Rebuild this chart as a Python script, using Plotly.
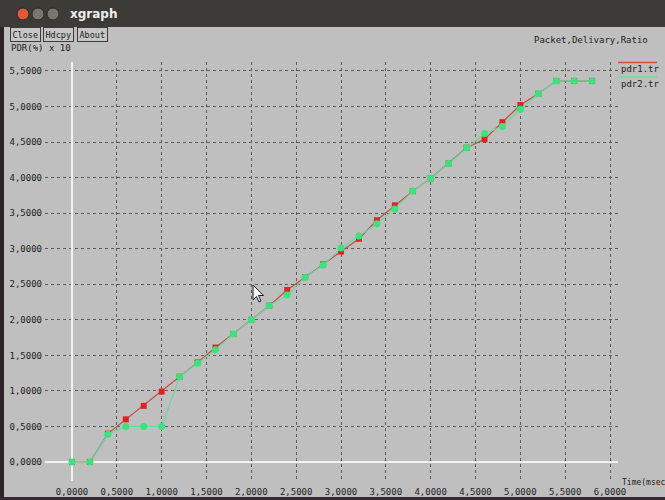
import plotly.graph_objects as go

# ---- data ----
time_ms = [0.0, 0.2, 0.4, 0.6, 0.8, 1.0, 1.2, 1.4, 1.6, 1.8, 2.0, 2.2, 2.4, 2.6, 2.8,
           3.0, 3.2, 3.4, 3.6, 3.8, 4.0, 4.2, 4.4, 4.6, 4.8, 5.0, 5.2, 5.4, 5.6, 5.8]
pdr1 = [0.0, 0.0, 0.40, 0.60, 0.79, 0.99, 1.20, 1.40, 1.61, 1.80, 2.00, 2.20, 2.42, 2.60, 2.78,
        2.96, 3.14, 3.40, 3.61, 3.81, 3.99, 4.20, 4.42, 4.54, 4.78, 5.02, 5.18, 5.36, 5.36, 5.36]
pdr2 = [0.0, 0.0, 0.39, 0.50, 0.50, 0.50, 1.20, 1.39, 1.58, 1.80, 2.00, 2.20, 2.35, 2.60, 2.77,
        3.01, 3.18, 3.35, 3.56, 3.81, 3.99, 4.20, 4.42, 4.62, 4.72, 4.96, 5.18, 5.36, 5.36, 5.36]
x_ticks = [0.0, 0.5, 1.0, 1.5, 2.0, 2.5, 3.0, 3.5, 4.0, 4.5, 5.0, 5.5, 6.0]
x_tick_labels = ["0,0000", "0,5000", "1,0000", "1,5000", "2,0000", "2,5000", "3,0000",
                 "3,5000", "4,0000", "4,5000", "5,0000", "5,5000", "6,0000"]
y_ticks = [0.0, 0.5, 1.0, 1.5, 2.0, 2.5, 3.0, 3.5, 4.0, 4.5, 5.0, 5.5]
y_tick_labels = ["0,0000", "0,5000", "1,0000", "1,5000", "2,0000", "2,5000",
                 "3,0000", "3,5000", "4,0000", "4,5000", "5,0000", "5,5000"]
series_names = ["pdr1.tr", "pdr2.tr"]
title_text = "Packet,Delivary,Ratio"
y_label = "PDR(%) x 10"
x_label = "Time(msec"

# ---- layout geometry (pixels) ----
W, H = 665, 500
L, R, T, B = 45, 618, 62, 481
PW, PH = R - L, B - T


def px(x):
    return (x - L) / PW


def py(y):
    return (B - y) / PH


BG = "#bfbfbf"
MONO = "DejaVu Sans Mono"

fig = go.Figure()
fig.add_trace(go.Scatter(x=time_ms, y=pdr1, mode="lines+markers", name=series_names[0],
                         line=dict(color="#c44a40", width=1.2),
                         marker=dict(symbol="square", size=6, color="#e02222"),
                         showlegend=False, cliponaxis=False))
fig.add_trace(go.Scatter(x=time_ms, y=pdr2, mode="lines+markers", name=series_names[1],
                         line=dict(color="#6ad89e", width=1.2),
                         marker=dict(symbol="circle", size=7, color="#3ae47c"),
                         showlegend=False, cliponaxis=False))

fig.update_layout(
    width=W, height=H,
    margin=dict(l=L, r=W - R, t=T, b=H - B, pad=0, autoexpand=False),
    paper_bgcolor=BG, plot_bgcolor=BG,
    font=dict(family=MONO, size=9, color="#222222"),
    xaxis=dict(range=[-0.301, 6.089], tickvals=x_ticks, ticktext=x_tick_labels,
               showgrid=True, gridcolor="#5a5a5a", griddash="dot", gridwidth=1,
               zeroline=True, zerolinecolor="#f2f2f2", zerolinewidth=2, automargin=False,
               showline=False, ticks="", ticklabelstandoff=4, fixedrange=True),
    yaxis=dict(range=[-0.267, 5.626], tickvals=y_ticks, ticktext=y_tick_labels,
               showgrid=True, gridcolor="#5a5a5a", griddash="dot", gridwidth=1,
               zeroline=True, zerolinecolor="#f2f2f2", zerolinewidth=2, automargin=False,
               showline=False, ticks="", ticklabelstandoff=2, fixedrange=True),
)

shapes = []
# window title bar
shapes.append(dict(type="rect", xref="paper", yref="paper", x0=px(0), x1=px(W), y0=py(27), y1=py(0),
                   fillcolor="#3c3b37", line=dict(width=0), layer="above"))
# title bar buttons
for cx, col in [(23, "#e0583c"), (38, "#77766f"), (53, "#77766f")]:
    shapes.append(dict(type="circle", xref="paper", yref="paper",
                       x0=px(cx - 6), x1=px(cx + 6), y0=py(14 + 6), y1=py(14 - 6),
                       fillcolor=col, line=dict(color="#2a2a28", width=1), layer="above"))
# left and bottom window borders
shapes.append(dict(type="rect", xref="paper", yref="paper", x0=px(0), x1=px(4), y0=py(H), y1=py(27),
                   fillcolor="#2e2428", line=dict(width=0), layer="above"))
shapes.append(dict(type="rect", xref="paper", yref="paper", x0=px(0), x1=px(W), y0=py(H), y1=py(497),
                   fillcolor="#3a2830", line=dict(width=0), layer="above"))
# legend lines
shapes.append(dict(type="line", xref="paper", yref="paper", x0=px(618), x1=px(657), y0=py(62.5), y1=py(62.5),
                   line=dict(color="#e04848", width=1.5), layer="above"))
shapes.append(dict(type="line", xref="paper", yref="paper", x0=px(618), x1=px(657), y0=py(77), y1=py(77),
                   line=dict(color="#5ee39a", width=1.5), layer="above"))
# mouse cursor
cx0, cy0 = 253, 285
pts = [(0, 0), (0, 15), (3.5, 11.5), (6, 17), (8, 16), (5.5, 10.5), (10.5, 10.5)]
path = "M " + " L ".join(f"{px(cx0 + a)},{py(cy0 + b)}" for a, b in pts) + " Z"
shapes.append(dict(type="path", xref="paper", yref="paper", path=path,
                   fillcolor="#f4f4f4", line=dict(color="#222222", width=1), layer="above"))
fig.update_layout(shapes=shapes)

ann = []
ann.append(dict(text="<b>xgraph</b>", xref="paper", yref="paper", x=px(68), y=py(14), xanchor="left",
                yanchor="middle", showarrow=False,
                font=dict(family="DejaVu Sans", size=12, color="#f0f0f0")))
ann.append(dict(text=y_label, xref="paper", yref="paper", x=px(9), y=py(48), xanchor="left", yanchor="middle",
                showarrow=False, font=dict(family=MONO, size=9, color="#222222")))
for label, cx in [("Close", 25.5), ("Hdcpy", 58), ("About", 92)]:
    ann.append(dict(text=label, xref="paper", yref="paper", x=px(cx), y=py(34.5), xanchor="center",
                    yanchor="middle", showarrow=False, bgcolor="#c6c6c6", bordercolor="#3a3a3a",
                    borderwidth=1, borderpad=1.5, font=dict(family=MONO, size=8.5, color="#222222")))
ann.append(dict(text=title_text, xref="paper", yref="paper", x=px(532), y=py(40), xanchor="left",
                yanchor="middle", showarrow=False, font=dict(family=MONO, size=9, color="#222222")))
ann.append(dict(text=series_names[0], xref="paper", yref="paper", x=px(619), y=py(68.5), xanchor="left",
                yanchor="middle", showarrow=False, font=dict(family=MONO, size=9, color="#222222")))
ann.append(dict(text=series_names[1], xref="paper", yref="paper", x=px(619), y=py(84), xanchor="left",
                yanchor="middle", showarrow=False, font=dict(family=MONO, size=9, color="#222222")))
ann.append(dict(text=x_label, xref="paper", yref="paper", x=px(620), y=py(482), xanchor="left",
                yanchor="middle", showarrow=False, font=dict(family=MONO, size=8, color="#222222")))
fig.update_layout(annotations=ann)

fig.write_html("out.html", config={"displayModeBar": False},
               post_script="document.body.style.margin='0';document.body.style.overflow='hidden';")
